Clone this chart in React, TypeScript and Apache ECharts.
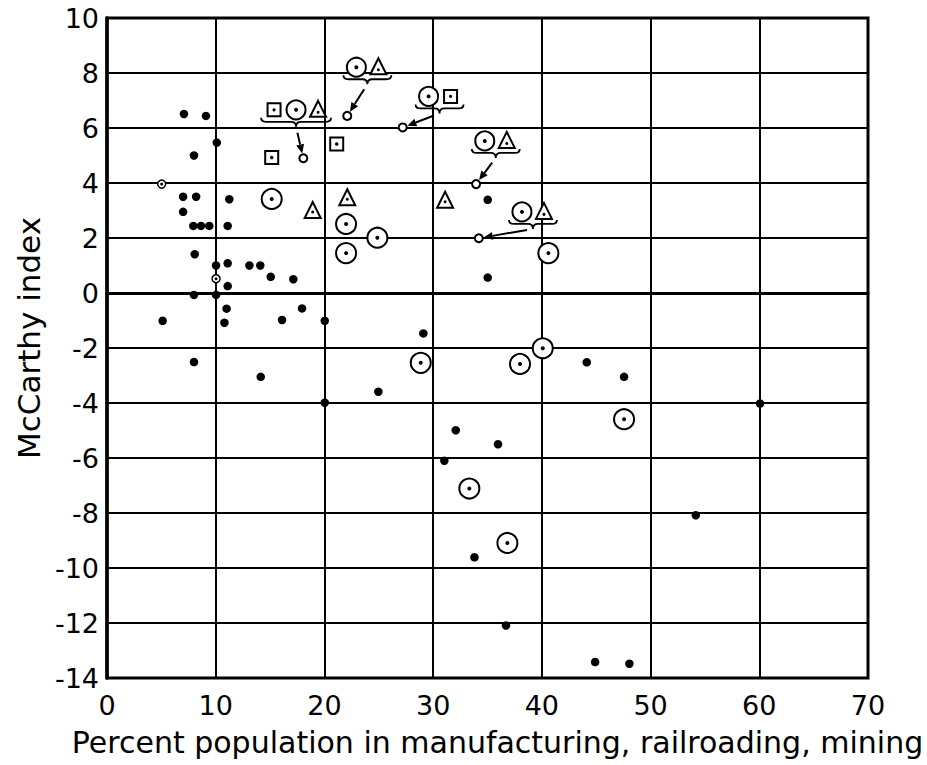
import React, { useEffect, useRef } from 'react';
import * as echarts from 'echarts';

// ---- data ----
const xAxisRange = [0, 70];
const yAxisRange = [-14, 10];
const xStep = 10;
const yStep = 2;

const xTitle = 'Percent population in manufacturing, railroading, mining';
const yTitle = 'McCarthy index';

// plain filled dots
const dots: number[][] = [
  [7.08, 6.51], [9.1, 6.44], [10.1, 5.47], [8.0, 5.0], [7.0, 3.5], [8.2, 3.5], [11.25, 3.41],
  [7.0, 2.95], [7.94, 2.44], [8.65, 2.44], [9.41, 2.44], [11.1, 2.44], [8.07, 1.41], [10.03, 1.0],
  [11.1, 1.08], [13.1, 1.0], [14.1, 1.0], [15.06, 0.59], [17.14, 0.5], [11.1, 0.25], [8.0, -0.07],
  [10.03, -0.07], [11.0, -0.57], [17.94, -0.56], [5.12, -1.01], [10.8, -1.08], [16.1, -0.98],
  [20.03, -1.01], [8.0, -2.51], [14.14, -3.05], [20.03, -3.99], [24.96, -3.59], [29.1, -1.47],
  [44.13, -2.52], [47.56, -3.05], [32.08, -4.99], [35.97, -5.5], [31.03, -6.1], [33.8, -9.61],
  [36.7, -12.09], [44.9, -13.42], [48.05, -13.48], [60.07, -4.02], [54.16, -8.08], [35.02, 3.39],
  [35.02, 0.56],
];

// circle with centre dot
const circleDots: number[][] = [
  [15.15, 3.42], [21.99, 2.51], [21.99, 1.45], [24.87, 2.01], [28.86, -2.54], [33.33, -7.11],
  [36.83, -9.09], [37.99, -2.58], [40.08, -2.01], [40.6, 1.45], [47.56, -4.59],
];

// square with centre dot
const squareDots: number[][] = [[15.15, 4.93], [21.13, 5.42]];

// triangle with centre dot
const triangleDots: number[][] = [[18.92, 3.02], [22.1, 3.48], [31.1, 3.39]];

// tiny ring with dot
const smallRingDots: number[][] = [[5.03, 3.96], [10.03, 0.52]];

// points that the annotation arrows point at
const arrowTargets: number[][] = [[18.06, 4.9], [22.1, 6.44], [27.2, 6.02], [33.95, 3.96], [34.2, 1.99]];

// annotation label anchors (data coordinates) and their symbols
const groupLabelX = [17.39, 23.95, 30.59, 35.76, 39.18];
const groupLabelY = [6.66, 8.21, 7.15, 5.53, 2.95];
const groupSymbols: string[][] = [
  ['square', 'circle', 'triangle'],
  ['circle', 'triangle'],
  ['circle', 'square'],
  ['circle', 'triangle'],
  ['circle', 'triangle'],
];

const FONT = 'DejaVu Sans';

function buildOption() {
  const annotationData = arrowTargets.map((t, i) => [t[0], t[1], groupLabelX[i], groupLabelY[i], i]);

  const renderAnnotation = (params: any, api: any) => {
    const tx = api.value(0), ty = api.value(1), lx0 = api.value(2), ly0 = api.value(3), gi = api.value(4);
    const T = api.coord([tx, ty]);
    const L = api.coord([lx0, ly0]);
    const syms = groupSymbols[gi];
    const n = syms.length;
    const spacing = 22;
    const children: any[] = [];
    const black = '#000';
    syms.forEach((s, k) => {
      const cx = L[0] + (k - (n - 1) / 2) * spacing;
      const cy = L[1];
      if (s === 'circle') {
        children.push({ type: 'circle', shape: { cx, cy, r: 9.5 }, style: { fill: '#fff', stroke: black, lineWidth: 2 } });
        children.push({ type: 'circle', shape: { cx, cy, r: 2 }, style: { fill: black } });
      } else if (s === 'square') {
        children.push({ type: 'rect', shape: { x: cx - 6.5, y: cy - 6.5, width: 13, height: 13 }, style: { fill: '#fff', stroke: black, lineWidth: 2 } });
        children.push({ type: 'circle', shape: { cx, cy, r: 1.6 }, style: { fill: black } });
      } else {
        children.push({ type: 'polygon', shape: { points: [[cx, cy - 9], [cx + 8, cy + 7], [cx - 8, cy + 7]] }, style: { fill: '#fff', stroke: black, lineWidth: 2 } });
        children.push({ type: 'circle', shape: { cx, cy: cy + 2.5, r: 1.5 }, style: { fill: black } });
      }
    });
    // brace
    const half = n * 11 + 2;
    const x0 = L[0] - half, x1 = L[0] + half, xm = L[0], y0 = L[1] + 12;
    const d = `M${x0} ${y0 - 4} Q${x0} ${y0} ${x0 + 5} ${y0} L${xm - 5} ${y0} Q${xm} ${y0} ${xm} ${y0 + 5} Q${xm} ${y0} ${xm + 5} ${y0} L${x1 - 5} ${y0} Q${x1} ${y0} ${x1} ${y0 - 4}`;
    children.push({ type: 'path', shape: { pathData: d }, style: { fill: 'none', stroke: black, lineWidth: 1.8 } });
    // arrow
    const B = [xm, y0 + 5];
    const dx = T[0] - B[0], dy = T[1] - B[1];
    const len = Math.sqrt(dx * dx + dy * dy) || 1;
    const ux = dx / len, uy = dy / len;
    const px = -uy, py = ux;
    const S = [B[0] + ux * 6, B[1] + uy * 6];
    const E = [T[0] - ux * 5, T[1] - uy * 5];
    const H = [E[0] - ux * 9, E[1] - uy * 9];
    children.push({ type: 'line', shape: { x1: S[0], y1: S[1], x2: H[0], y2: H[1] }, style: { stroke: black, lineWidth: 2 } });
    children.push({ type: 'polygon', shape: { points: [E, [H[0] + px * 4, H[1] + py * 4], [H[0] - px * 4, H[1] - py * 4]] }, style: { fill: black } });
    return { type: 'group', children };
  };

  const ring = (data: number[][], symbol: string, size: any, bw: number) => ({
    type: 'scatter', data, symbol, symbolSize: size, silent: true,
    itemStyle: { color: '#fff', borderColor: '#000', borderWidth: bw, opacity: 1 },
  });
  const centre = (data: number[][], size: number, offset?: number[]) => ({
    type: 'scatter', data, symbol: 'circle', symbolSize: size, silent: true,
    symbolOffset: offset || [0, 0],
    itemStyle: { color: '#000', opacity: 1 },
  });

  return {
    animation: false,
    backgroundColor: '#fff',
    grid: { left: 107, right: 59, top: 18, bottom: 87, show: true, borderColor: '#000', borderWidth: 3, containLabel: false },
    xAxis: {
      type: 'value', min: xAxisRange[0], max: xAxisRange[1], interval: xStep,
      name: xTitle, nameLocation: 'middle', nameGap: 49,
      nameTextStyle: { fontFamily: FONT, fontSize: 30, color: '#000', padding: [0, 0, 0, 20] },
      axisLine: { show: true, lineStyle: { color: '#000', width: 3 } },
      axisTick: { show: false },
      axisLabel: { fontFamily: FONT, fontSize: 27, color: '#000', margin: 14 },
      splitLine: { show: true, lineStyle: { color: '#000', width: 2 } },
    },
    yAxis: {
      type: 'value', min: yAxisRange[0], max: yAxisRange[1], interval: yStep,
      name: yTitle, nameLocation: 'middle', nameGap: 62, nameRotate: 90,
      nameTextStyle: { fontFamily: FONT, fontSize: 31, color: '#000', padding: [0, 0, 0, 20] },
      axisLine: { show: true, lineStyle: { color: '#000', width: 3.5 } },
      axisTick: { show: false },
      axisLabel: { fontFamily: FONT, fontSize: 27, color: '#000', margin: 8 },
      splitLine: { show: true, lineStyle: { color: '#000', width: 2 } },
    },
    series: [
      {
        type: 'scatter', data: dots, symbol: 'circle', symbolSize: 8.5, silent: true,
        itemStyle: { color: '#000', opacity: 1 },
        markLine: {
          silent: true, symbol: ['none', 'none'], label: { show: false },
          lineStyle: { color: '#000', width: 3, type: 'solid' },
          data: [{ yAxis: 0 }],
        },
      },
      ring(circleDots, 'circle', 20, 2),
      centre(circleDots, 4),
      ring(squareDots, 'rect', 13, 2),
      centre(squareDots, 3.5),
      ring(triangleDots, 'triangle', [16, 16], 2),
      centre(triangleDots, 3, [0, 2]),
      ring(smallRingDots, 'circle', 8, 1.5),
      centre(smallRingDots, 3),
      ring(arrowTargets, 'circle', 8, 2),
      {
        type: 'custom', coordinateSystem: 'cartesian2d', data: annotationData,
        encode: { x: 0, y: 1 }, renderItem: renderAnnotation, silent: true, clip: false, z: 5,
      },
    ],
  };
}

export default function App() {
  const ref = useRef<HTMLDivElement>(null);
  useEffect(() => {
    document.body.style.margin = '0';
    const chart = echarts.init(ref.current!, null, { renderer: 'svg' });
    chart.setOption(buildOption() as any);
    return () => chart.dispose();
  }, []);
  return <div ref={ref} style={{ width: 927, height: 765, background: '#fff' }} />;
}
